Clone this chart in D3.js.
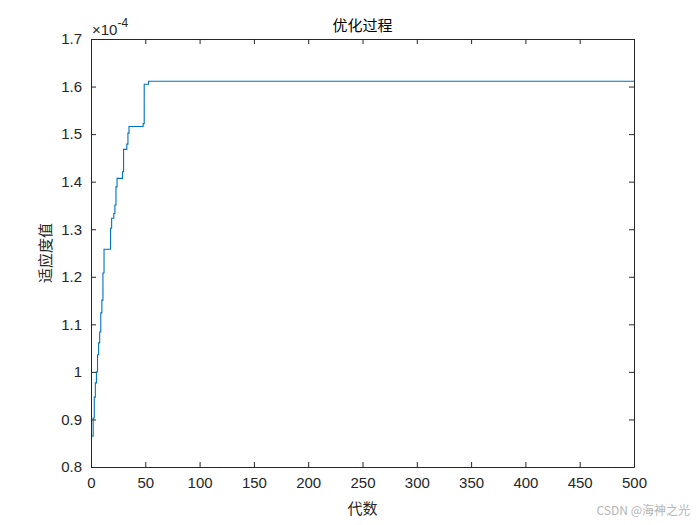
<!DOCTYPE html>
<html>
<head>
<meta charset="utf-8">
<script src="https://cdn.jsdelivr.net/npm/d3@7"></script>
<style>
	body { margin: 0; background: #fff; }
	svg text { font-family: Arial, "Liberation Sans", sans-serif; }
	.cjk { font-family: "Noto Sans CJK SC", sans-serif; }
</style>
</head>
<body>
<svg id="chart" width="700" height="525" viewBox="0 0 700 525"></svg>
<script>
// generations at which the best fitness changes, and the new value (x 1e-4)
const changeGen = [1, 2, 3, 4, 5, 6, 7, 8, 9, 10, 11, 12, 18, 19, 21, 22, 23, 24, 29, 30, 33, 34, 35, 48, 49, 53];
const changeFit = [0.865, 0.903, 0.947, 0.977, 1.000, 1.036, 1.061, 1.084, 1.124, 1.151, 1.208, 1.258,
	1.302, 1.323, 1.333, 1.351, 1.389, 1.407, 1.421, 1.468, 1.479, 1.502, 1.516, 1.522, 1.605, 1.611];
const maxGen = 500;
const xTicks = [0, 50, 100, 150, 200, 250, 300, 350, 400, 450, 500];
const yTicks = [0.8, 0.9, 1.0, 1.1, 1.2, 1.3, 1.4, 1.5, 1.6, 1.7];

function whenDocumentLoaded(action) {
	if (document.readyState === "loading") {
		document.addEventListener("DOMContentLoaded", action);
	} else {
		action();
	}
}

whenDocumentLoaded(() => {
	const svg = d3.select("#chart");
	const left = 91, right = 634, top = 39, bottom = 467;
	const axisColor = "#262626";

	const x = d3.scaleLinear().domain([0, maxGen]).range([left, right]);
	const y = d3.scaleLinear().domain([0.8, 1.7]).range([bottom, top]);

	const points = changeGen.map((g, i) => [g, changeFit[i]]);
	points.push([maxGen, changeFit[changeFit.length - 1]]);

	const line = d3.line()
		.x(d => x(d[0]))
		.y(d => y(d[1]))
		.curve(d3.curveStepAfter);

	svg.append("path")
		.datum(points)
		.attr("d", line)
		.attr("fill", "none")
		.attr("stroke", "#0072BD")
		.attr("stroke-width", 1.1);

	const fmt = d => String(+d.toFixed(1));

	// bottom and left axes with inward ticks
	const gx = svg.append("g")
		.attr("transform", "translate(0," + bottom + ")")
		.call(d3.axisBottom(x).tickValues(xTicks).tickSizeInner(-5).tickSizeOuter(0).tickPadding(10));
	const gy = svg.append("g")
		.attr("transform", "translate(" + left + ",0)")
		.call(d3.axisLeft(y).tickValues(yTicks).tickFormat(fmt).tickSizeInner(-5).tickSizeOuter(0).tickPadding(9));
	// mirrored top and right
	const gt = svg.append("g")
		.attr("transform", "translate(0," + top + ")")
		.call(d3.axisTop(x).tickValues(xTicks).tickSizeInner(-5).tickSizeOuter(0).tickFormat(""));
	const gr = svg.append("g")
		.attr("transform", "translate(" + right + ",0)")
		.call(d3.axisRight(y).tickValues(yTicks).tickSizeInner(-5).tickSizeOuter(0).tickFormat(""));

	[gx, gy, gt, gr].forEach(g => {
		g.select(".domain").attr("stroke", axisColor);
		g.selectAll(".tick line").attr("stroke", axisColor);
		g.selectAll(".tick text")
			.attr("fill", axisColor)
			.style("font-size", "15px")
			.style("font-family", "Arial, 'Liberation Sans', sans-serif");
	});

	// exponent label
	const expo = svg.append("text")
		.attr("x", left + 1)
		.attr("y", 35)
		.attr("fill", axisColor)
		.style("font-size", "15px");
	expo.append("tspan").text("\u00d710");
	expo.append("tspan").attr("dy", -8).style("font-size", "12px").text("-4");

	svg.append("text")
		.attr("class", "cjk")
		.attr("x", (left + right) / 2)
		.attr("y", 31)
		.attr("text-anchor", "middle")
		.attr("fill", "#000")
		.style("font-size", "15px")
		.text("优化过程");

	svg.append("text")
		.attr("class", "cjk")
		.attr("x", (left + right) / 2)
		.attr("y", 514)
		.attr("text-anchor", "middle")
		.attr("fill", axisColor)
		.style("font-size", "15px")
		.text("代数");

	svg.append("text")
		.attr("class", "cjk")
		.attr("transform", "translate(51," + ((top + bottom) / 2) + ") rotate(-90)")
		.attr("text-anchor", "middle")
		.attr("fill", axisColor)
		.style("font-size", "15px")
		.text("适应度值");

	svg.append("text")
		.attr("class", "cjk")
		.attr("x", 690)
		.attr("y", 515)
		.attr("text-anchor", "end")
		.attr("fill", "#b5b5b5")
		.style("font-size", "12px")
		.text("CSDN @海神之光");
});
</script>
</body>
</html>
